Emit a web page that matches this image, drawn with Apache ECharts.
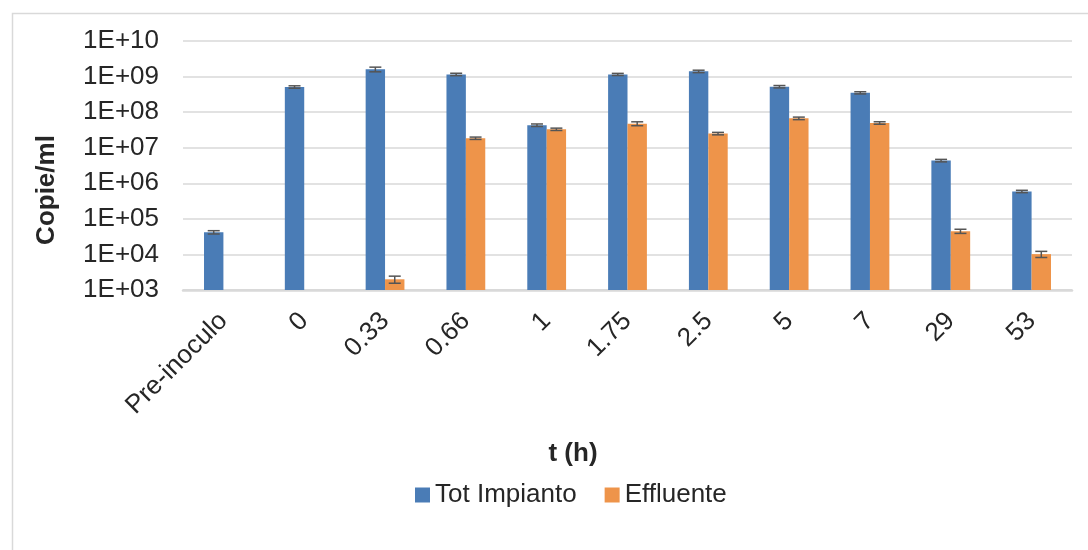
<!DOCTYPE html>
<html>
<head>
<meta charset="utf-8">
<script src="https://cdn.jsdelivr.net/npm/echarts@6/dist/echarts.min.js"></script>
<style>html,body{margin:0;padding:0;background:#fff;}#c{width:1088px;height:550px;}</style>
</head>
<body>
<div id="c"></div>
<script>
const categories = ['Pre-inoculo', '0', '0.33', '0.66', '1', '1.75', '2.5', '5', '7', '29', '53'];
const totImpianto = [4.2e4, 5.1e8, 1.6e9, 1.15e9, 4.3e7, 1.15e9, 1.4e9, 5.2e8, 3.5e8, 4.35e6, 5.9e5];
const totImpiantoErr = [4.5e3, 4e7, 2.4e8, 9e7, 3.5e6, 8e7, 1.1e8, 4e7, 2.5e7, 3.5e5, 4.5e4];
const effluente = [null, null, 2.0e3, 1.85e7, 3.3e7, 4.75e7, 2.5e7, 6.7e7, 4.97e7, 4.5e4, 1.02e4];
const effluenteErr = [null, null, 4.5e2, 1.4e6, 2.5e6, 6e6, 2e6, 5.5e6, 4e6, 6e3, 2e3];

const FONT = '"Liberation Sans", Arial, sans-serif';
const BAR_FRAC = 0.24;

function errData(vals, errs) {
  const out = [];
  vals.forEach((v, i) => { if (v != null) out.push([i, v, errs[i]]); });
  return out;
}
function errRender(side) {
  return function (params, api) {
    const idx = api.value(0), v = api.value(1), e = api.value(2);
    const cw = params.coordSys.width / categories.length;
    const c = api.coord([idx, v]);
    const x = c[0] + side * cw * BAR_FRAC / 2;
    const yTop = api.coord([idx, v + e])[1];
    const yBot = api.coord([idx, Math.max(v - e, 1)])[1];
    const half = 6;
    const st = { stroke: '#555555', lineWidth: 1.5 };
    return {
      type: 'group',
      children: [
        { type: 'line', shape: { x1: x, y1: yTop, x2: x, y2: yBot }, style: st },
        { type: 'line', shape: { x1: x - half, y1: yTop, x2: x + half, y2: yTop }, style: st },
        { type: 'line', shape: { x1: x - half, y1: yBot, x2: x + half, y2: yBot }, style: st }
      ]
    };
  };
}

const chart = echarts.init(document.getElementById('c'));
chart.setOption({
  animation: false,
  backgroundColor: '#ffffff',
  textStyle: { fontFamily: FONT },
  graphic: [
    { type: 'rect', left: 10, top: 11, shape: { width: 1200, height: 700 },
      style: { fill: 'none', stroke: '#D9D9D9', lineWidth: 1.5 }, silent: true, z: -1 },
    { type: 'text', x: 47, y: 190, rotation: Math.PI / 2,
      style: { text: 'Copie/ml', font: 'bold 26px ' + FONT, fill: '#262626', align: 'center', verticalAlign: 'middle' } },
    { type: 'text', x: 573, y: 454,
      style: { text: 't (h)', font: 'bold 26px ' + FONT, fill: '#262626', align: 'center', verticalAlign: 'middle' } }
  ],
  legend: {
    data: ['Tot Impianto', 'Effluente'],
    left: 410, top: 477,
    icon: 'rect', itemWidth: 15, itemHeight: 15, itemGap: 28,
    textStyle: { fontSize: 26, color: '#262626', fontFamily: FONT }
  },
  grid: { left: 183, right: 16, top: 41, bottom: 260, containLabel: false },
  xAxis: {
    type: 'category',
    data: categories,
    axisLine: { lineStyle: { color: '#D9D9D9', width: 2.5 } },
    axisTick: { show: false },
    axisLabel: { rotate: 45, fontSize: 26, color: '#262626', margin: 27, interval: 0, fontFamily: FONT }
  },
  yAxis: {
    type: 'log',
    logBase: 10,
    min: 1e3, max: 1e10,
    axisLine: { show: false },
    axisTick: { show: false },
    splitLine: { lineStyle: { color: '#D9D9D9', width: 1.5 } },
    axisLabel: {
      fontSize: 26, color: '#262626', margin: 24, fontFamily: FONT,
      formatter: function (v) {
        const e = Math.round(Math.log10(v));
        return '1E+' + (e < 10 ? '0' + e : e);
      }
    }
  },
  series: [
    { name: 'Tot Impianto', type: 'bar', data: totImpianto, barWidth: '24%', barGap: '0%',
      itemStyle: { color: '#4A7CB6' } },
    { name: 'Effluente', type: 'bar', data: effluente, barWidth: '24%', barGap: '0%',
      itemStyle: { color: '#EE944A' } },
    { type: 'custom', name: 'errA', renderItem: errRender(-1), data: errData(totImpianto, totImpiantoErr), z: 5,
      encode: { x: 0, y: 1 } },
    { type: 'custom', name: 'errB', renderItem: errRender(1), data: errData(effluente, effluenteErr), z: 5,
      encode: { x: 0, y: 1 } }
  ]
});
</script>
</body>
</html>
